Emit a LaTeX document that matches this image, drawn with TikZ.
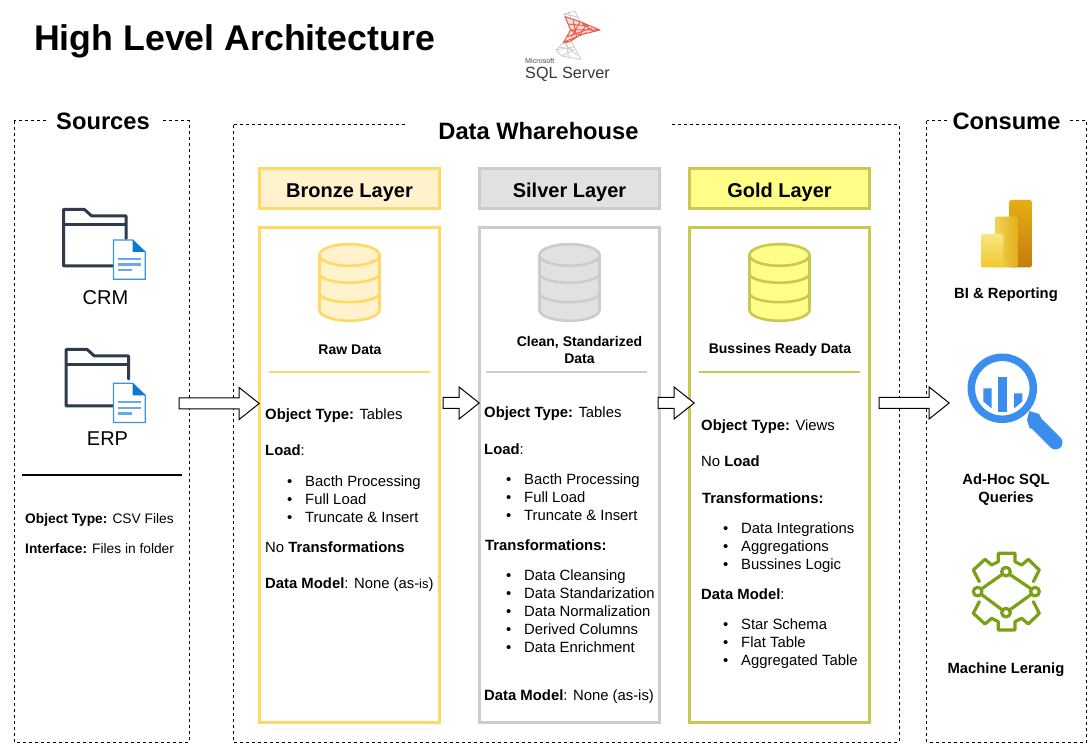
\documentclass[tikz,border=0pt]{standalone}
\usepackage{fontspec}
\setmainfont{Liberation Sans}
\usetikzlibrary{shapes.arrows}
\definecolor{brF}{HTML}{FFF2CC}\definecolor{brS}{HTML}{FFD966}
\definecolor{siF}{HTML}{E1E1E1}\definecolor{siS}{HTML}{CCCCCC}
\definecolor{goF}{HTML}{FFFF88}\definecolor{goS}{HTML}{C9C950}
\definecolor{fold}{HTML}{2E3B4A}\definecolor{docE}{HTML}{3C93E6}\definecolor{docD}{HTML}{0A78D4}\definecolor{docL}{HTML}{69A7EF}
\definecolor{magn}{HTML}{3B8EEE}\definecolor{gear}{HTML}{7AA116}
\definecolor{sqlR}{HTML}{E8604C}\definecolor{sqlG}{HTML}{CFCFCF}
\definecolor{pbA}{HTML}{E6AE12}\definecolor{pbB}{HTML}{C47C10}
\definecolor{pbC}{HTML}{F3D354}\definecolor{pbD}{HTML}{E3AE1C}
\definecolor{pbE}{HTML}{F8E585}\definecolor{pbF}{HTML}{F2C92A}
\newcommand\fsz[1]{\fontsize{#1}{#1}\selectfont}
\tikzset{
  x=1pt,y=-1pt,
  groupbox/.style={draw=black,line width=1pt,dash pattern=on 3pt off 3pt},
  grouptitle/.style={fill=white,inner sep=0pt,font=\fsz{23.7}\bfseries,minimum height=26pt},
  bodytext/.style={anchor=base west,inner sep=0pt,font=\fsz{14.85}},
  midtext/.style={inner sep=0pt,font=\fsz{14}\bfseries,align=center},
  iconlabel/.style={inner sep=0pt,font=\fsz{14.8}\bfseries,align=center},
  sidetext/.style={anchor=base west,inner sep=0pt,font=\fsz{13.75}},
  blockarrow/.style={draw=black,fill=white,line width=1pt,single arrow,single arrow tip angle=77,
     single arrow head extend=10.5pt,minimum width=31pt,inner xsep=0pt,inner ysep=5pt,text height=0pt,text depth=0pt,anchor=tip},
}
\newcommand\txl[4]{\node[bodytext] (#1) at (#2,#3) {#4};}
\newcommand\bul[4]{\node[bodytext] (#1) at (#2,#3) {\llap{•\hspace{13pt}}#4};}
\newcommand\layer[5]{% name, left x, right x, fill, stroke
  \node[draw=#5,fill=#4,line width=2.7pt,minimum width={#3-#2},minimum height=40.3pt,inner sep=0pt,font=\fsz{20}\bfseries,text height=18pt,text depth=0pt]
     (#1head) at ({(#2+#3)/2},188.5) {\csname lname#1\endcsname};
  \node[draw=#5,line width=2.7pt,minimum width={#3-#2},minimum height=495pt,inner sep=0pt] (#1panel) at ({(#2+#3)/2},474.85) {};
}
\newcommand\cyl[3]{% centre x, fill, stroke
  \begin{scope}[shift={(#1,0)},line width=2.6pt,draw=#3]
    \filldraw[fill=#2] (-30,255) -- (-30,310) arc[start angle=180,end angle=360,x radius=30,y radius=-10.8] -- (30,255) arc[start angle=0,end angle=180,x radius=30,y radius=-10.8] -- cycle;
    \draw (-30,255) arc[start angle=180,end angle=360,x radius=30,y radius=-10.8];
    \draw (-30,273.5) arc[start angle=180,end angle=360,x radius=30,y radius=-9.2];
    \draw (-30,293) arc[start angle=180,end angle=360,x radius=30,y radius=-9.2];
  \end{scope}
}
\newcommand\foldericon[3]{% shift x, folder shift y, doc shift y
  \begin{scope}[shift={(#1,#2)}]
    \draw[fold,line width=3pt,line join=round,line cap=round] (114,266) -- (63.5,266) -- (63.5,209.5) -- (84.5,209.5) -- (91.7,216) -- (126,216) -- (126,239);
    \draw[fold,line width=3pt] (63.5,224.5) -- (126,224.5);
  \end{scope}
  \begin{scope}[shift={(0,#3)}]
    \filldraw[fill=white,draw=docE,line width=1.2pt] (113.5,240) -- (132.7,240) -- (145.3,252) -- (145.3,279.3) -- (113.5,279.3) -- cycle;
    \fill[docD] (132.7,240) -- (145.3,252) -- (132.7,252) -- cycle;
    \draw[docL,line width=2.2pt] (118,259) -- (140.7,259) (118,264.5) -- (140.7,264.5) (118,270.3) -- (132,270.3);
  \end{scope}
}
\begin{document}
\begin{tikzpicture}
\fill[white] (0,0) rectangle (1088,751);
\useasboundingbox (0,0) rectangle (1088,751);
% title
\node[anchor=base west,inner sep=0pt,font=\fsz{35.7}\bfseries] (title) at (34,51) {High Level Architecture};
% SQL Server logo
\begin{scope}[shift={(480,0)},x=0.3333pt,y=-0.3333pt]
  \draw[sqlG,line width=0.9pt] (252,42) -- (285,33) -- (300,65) -- (255,50) -- cycle (265,35) -- (275,60) (252,42) -- (290,50);
  \draw[sqlG,line width=0.9pt] (250,128) -- (228,150) -- (245,168) -- (302,178) -- (275,125) -- cycle (235,140) -- (280,150) -- (245,168) (260,125) -- (265,170) (228,150) -- (285,140) (250,128) -- (290,165);
  \fill[sqlR!22] (255,50) -- (300,65) -- (360,90) -- (300,105) -- (270,125) -- (250,128) -- (272,90) -- cycle;
  \draw[sqlR,line width=1pt,line join=round] (255,50) -- (300,65) -- (360,90) -- (300,105) -- (270,125) -- (250,128) -- (272,90) -- cycle
     (272,90) -- (360,90) (265,72) -- (325,78) (300,65) -- (275,110) (320,72) -- (300,105) (280,62) -- (290,112) (272,90) -- (300,105) (255,125) -- (320,98) (262,110) -- (335,84) (305,68) -- (340,95);
\end{scope}
\node[anchor=base west,inner sep=0pt,font=\fsz{7.2},text=black!70] (sqlms) at (525,64) {Microsoft};
\node[anchor=base west,inner sep=0pt,font=\fsz{16.2},text=black!78] (sqlname) at (525,78.5) {SQL Server};
% group boxes
\draw[groupbox] (14,121) rectangle (189,742);
\draw[groupbox] (233,125) rectangle (899,742);
\draw[groupbox] (926.5,121) rectangle (1086.5,742);
\node[grouptitle,minimum width=115pt] (srcT) at (103,121) {Sources};
\node[grouptitle,minimum width=267pt] (dwT) at (538.5,131) {Data Wharehouse};
\node[grouptitle,minimum width=120pt] (conT) at (1006.5,121) {Consume};
% layers
\expandafter\def\csname lnamebronze\endcsname{Bronze Layer}
\expandafter\def\csname lnamesilver\endcsname{Silver Layer}
\expandafter\def\csname lnamegold\endcsname{Gold Layer}
\layer{bronze}{259.65}{439.35}{brF}{brS}
\layer{silver}{479.35}{659.65}{siF}{siS}
\layer{gold}{689.35}{869.65}{goF}{goS}
\cyl{349.5}{brF}{brS}
\cyl{569.5}{siF}{siS}
\cyl{779.5}{goF}{goS}
\node[midtext] (rawT) at (350,349.5) {Raw Data};
\node[midtext] (cleanT) at (579.5,349.5) {Clean, Standarized\\[3pt]Data};
\node[midtext] (readyT) at (780,349.5) {Bussines Ready Data};
\draw[brS,line width=2pt] (269,372.5) -- (430,372.5);
\draw[siS,line width=2pt] (486,372.5) -- (647,372.5);
\draw[goS,line width=2pt] (699,372.5) -- (860,372.5);
% sources
\foldericon{0}{0}{0}
\foldericon{2.7}{140}{143.3}
\node[inner sep=0pt,font=\fsz{20}] (crm) at (105.5,297.5) {CRM};
\node[inner sep=0pt,font=\fsz{20}] (erp) at (107.5,438.5) {ERP};
\draw[black,line width=2pt] (22,475) -- (182,475);
\node[sidetext] (sot) at (25,523) {\textbf{Object Type:} CSV Files};
\node[sidetext] (sif) at (25,553) {\textbf{Interface:} Files in folder};
% bronze text
\txl{bo}{265}{420}{\textbf{Object Type:} Tables}
\txl{bl}{265}{456}{\textbf{Load}:}
\bul{bl1}{305}{486}{Bacth Processing}
\bul{bl2}{305}{504}{Full Load}
\bul{bl3}{305}{522}{Truncate \& Insert}
\txl{bt}{265}{552}{No \textbf{Transformations}}
\txl{bd}{265}{588}{\textbf{Data Model}: None (as-{\fsz{13}is})}
% silver text
\txl{so}{484}{418}{\textbf{Object Type:} Tables}
\txl{sl}{484}{454}{\textbf{Load}:}
\bul{sl1}{524}{484}{Bacth Processing}
\bul{sl2}{524}{502}{Full Load}
\bul{sl3}{524}{520}{Truncate \& Insert}
\txl{st}{485}{550}{\textbf{Transformations:}}
\bul{st1}{524}{580}{Data Cleansing}
\bul{st2}{524}{598}{Data Standarization}
\bul{st3}{524}{616}{Data Normalization}
\bul{st4}{524}{634}{Derived Columns}
\bul{st5}{524}{652}{Data Enrichment}
\txl{sd}{484}{700}{\textbf{Data Model}: None (as-is)}
% gold text
\txl{go}{701}{431}{\textbf{Object Type:} Views}
\txl{gl}{701}{467}{No \textbf{Load}}
\txl{gt}{702}{503}{\textbf{Transformations:}}
\bul{gt1}{741}{533}{Data Integrations}
\bul{gt2}{741}{551}{Aggregations}
\bul{gt3}{741}{569}{Bussines Logic}
\txl{gd}{701}{599}{\textbf{Data Model}:}
\bul{gd1}{741}{629}{Star Schema}
\bul{gd2}{741}{647}{Flat Table}
\bul{gd3}{741}{665}{Aggregated Table}
% arrows
\node[blockarrow,minimum height=80pt] (a1) at (260,403.5) {};
\node[blockarrow,minimum height=36pt] (a2) at (480,403) {};
\node[blockarrow,minimum height=36pt] (a3) at (695,403) {};
\node[blockarrow,minimum height=70pt] (a4) at (950,403) {};
% Power BI
\begin{scope}[rounded corners=1.5pt]
\shade[top color=pbA,bottom color=pbB] (1009.3,200) rectangle (1031.7,267.5);
\shade[left color=pbC,right color=pbD] (995,216.7) rectangle (1017.7,267.5);
\shade[top color=pbE,bottom color=pbF] (981,234) rectangle (1003.3,267.5);
\end{scope}
\node[iconlabel] (bi) at (1006,294.5) {BI \& Reporting};
% magnifier
\draw[magn,line width=7.5pt] (1002.3,388.3) circle[radius=31];
\fill[magn] (983.3,388.3) -- (991.7,388.3) -- (991.7,408.5) -- (983.3,401.5) -- cycle;
\fill[magn] (998.3,377.5) rectangle (1006.7,412.3);
\fill[magn] (1014,393.5) -- (1022.3,393.5) -- (1022.3,401.5) -- (1014,408.5) -- cycle;
\fill[magn] (1027,420) -- (1029.3,411) -- (1039,414) -- (1041,418) -- (1030,429) -- cycle;
\draw[magn,line width=14pt,line cap=round] (1035,422) -- (1055.5,442.5);
\node[iconlabel] (adhoc) at (1006,489.5) {Ad-Hoc SQL\\[3.2pt]Queries};
% gear
\begin{scope}[shift={(940,540)},x=0.3333pt,y=-0.3333pt,gear,line width=3.2pt,line join=round,line cap=round]
  \draw (118,125) -- (100,90) -- (135,58) -- (155,75) -- (175,65) -- (175,40) -- (225,40) -- (225,65) -- (245,75) -- (265,58) -- (298,90) -- (280,125);
  \draw (118,185) -- (100,220) -- (135,252) -- (155,235) -- (175,245) -- (175,270) -- (225,270) -- (225,245) -- (245,235) -- (265,252) -- (298,220) -- (280,185);
  \draw (198,95) circle[radius=13] (113,155) circle[radius=13] (285,155) circle[radius=13] (198,218) circle[radius=13];
  \draw (187,103) -- (124,147) (209,103) -- (274,147) (124,163) -- (187,210) (274,163) -- (209,210);
\end{scope}
\node[iconlabel] (ml) at (1006,669.5) {Machine Leranig};
\end{tikzpicture}
\end{document}
